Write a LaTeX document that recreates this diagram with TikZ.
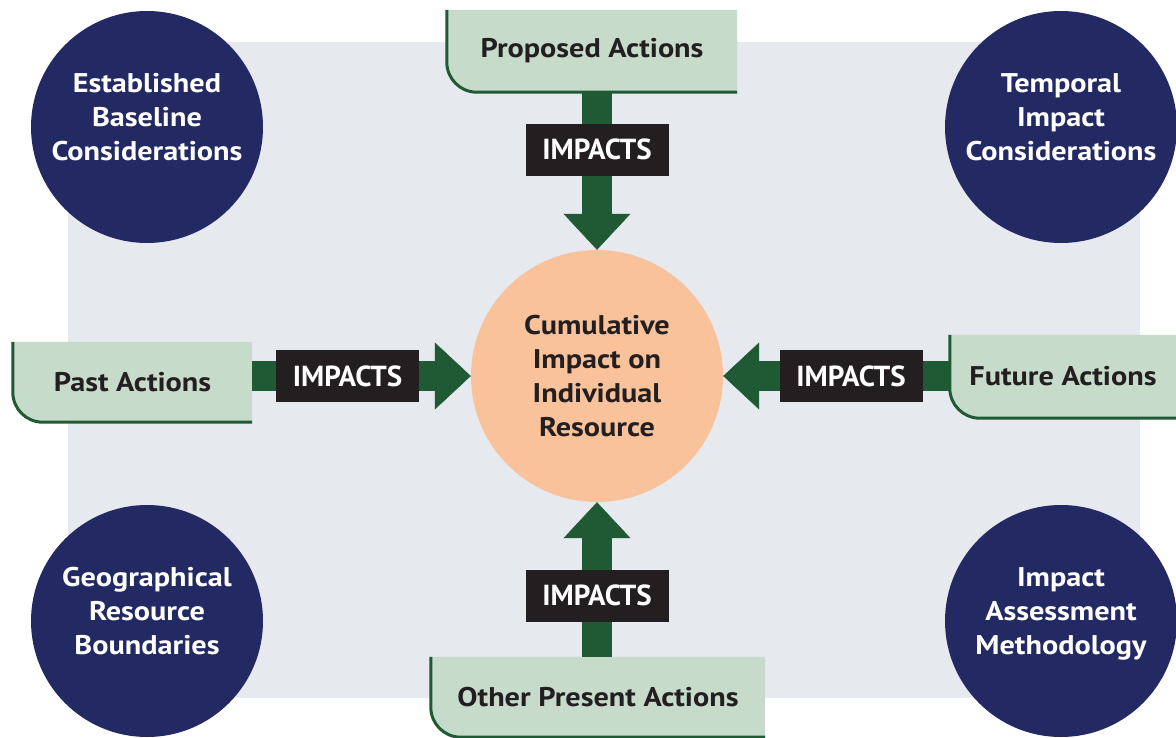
\documentclass[tikz,border=0pt]{standalone}
\usepackage{fontspec}
\setmainfont[FakeStretch=1.12]{PT Sans}
\newfontfamily\tagfont{PT Sans}
\usetikzlibrary{arrows.meta,backgrounds}

\definecolor{navy}{RGB}{35,42,99}
\definecolor{peach}{RGB}{249,194,155}
\definecolor{sage}{RGB}{198,219,202}
\definecolor{pine}{RGB}{31,90,52}
\definecolor{panel}{RGB}{230,233,238}
\definecolor{ink}{RGB}{35,31,32}

\begin{document}
\begin{tikzpicture}[x=1pt, y=-1pt]
        \tikzstyle{every node}=[inner sep=0pt, font=\bfseries\fontsize{27}{34}\selectfont]
        \tikzstyle{topic}=[circle, fill=navy, text=white, minimum size=232pt, align=center, text depth=20pt]
        \tikzstyle{core}=[circle, fill=peach, text=ink, minimum size=252pt, align=center]
        \tikzstyle{action}=[text=ink]
        \tikzstyle{impact}=[draw=pine, line width=30pt, -{Triangle[width=67pt, length=36pt, line width=0.5pt]}]
        \tikzstyle{tag}=[fill=ink, text=white, minimum width=143pt, minimum height=52pt, font=\tagfont\bfseries\fontsize{29}{29}\selectfont]

        \useasboundingbox (0,0) rectangle (1176,738);

% The four considerations in the corners.

        \node[topic] (baseline) at (147,127) {Established\\Baseline\\Considerations};
        \node[topic] (temporal) at (1061,127) {Temporal\\Impact\\Considerations};
        \node[topic] (geo) at (147,621) {Geographical\\Resource\\Boundaries};
        \node[topic] (method) at (1061,621) {Impact\\Assessment\\Methodology};

        \node[core] (cum) at (597,376) {Cumulative\\Impact on\\Individual\\Resource};

        \node[action, minimum width=290pt, minimum height=82pt] (proposed) at (592,51) {Proposed Actions};
        \node[action, minimum width=239pt, minimum height=80pt] (past) at (132.5,382) {Past Actions};
        \node[action, minimum width=226pt, minimum height=83pt] (future) at (1063,376.5) {Future Actions};
        \node[action, minimum width=334pt, minimum height=80pt] (present) at (598,697) {Other Present Actions};

% Panel and action boxes go behind the nodes.

        \begin{scope}[on background layer]
            \fill[white] (0,0) rectangle (1176,738);
            \fill[panel] (68,42) rectangle (1140,698);
            \foreach \b in {proposed,past,future,present} {
                \fill[sage] (\b.north west) -- ([yshift=30pt]\b.south west)
                    arc[start angle=180, end angle=270, radius=30pt] -- (\b.south east) -- (\b.north east) -- cycle;
                \draw[pine, line width=3pt] (\b.north west) -- ([yshift=30pt]\b.south west)
                    arc[start angle=180, end angle=270, radius=30pt] -- (\b.south east);
            }
        \end{scope}

        \draw[impact] (cum.north |- proposed.south) -- node[tag, pos=0.365] (tagN) {IMPACTS} (cum.north);
        \draw[impact] (past.east |- cum.west) -- node[tag, pos=0.436] (tagW) {IMPACTS} (cum.west);
        \draw[impact] (future.west |- cum.east) -- node[tag, pos=0.436] (tagE) {IMPACTS} (cum.east);
        \draw[impact] (cum.south |- present.north) -- node[tag, pos=0.395] (tagS) {IMPACTS} (cum.south);

    \end{tikzpicture}
\end{document}
